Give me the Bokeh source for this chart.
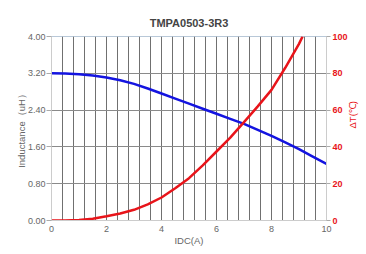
import math
from bokeh.plotting import figure
from bokeh.models import Range1d, LinearAxis, SingleIntervalTicker, FixedTicker, NumeralTickFormatter
from bokeh.embed import file_html
from bokeh.resources import INLINE

title_text = "TMPA0503-3R3"
x_label = "IDC(A)"
y_label = "Inductance（uH）"
y2_label = "ΔT(℃)"

# Inductance vs IDC
idc_l = [0, 0.5, 1, 1.5, 2, 2.5, 3, 3.5, 4, 4.5, 5, 5.5, 6, 6.5, 7, 7.5, 8, 8.5, 9, 9.5, 10]
inductance = [3.20, 3.195, 3.18, 3.15, 3.11, 3.05, 2.97, 2.87, 2.76, 2.65, 2.54, 2.43, 2.32,
              2.21, 2.10, 1.97, 1.84, 1.70, 1.55, 1.39, 1.23]

# Temperature rise vs IDC
idc_t = [0, 0.5, 1, 1.5, 2, 2.5, 3, 3.5, 4, 4.5, 5, 5.5, 6, 6.5, 7, 7.5, 8, 8.5, 9, 9.13]
delta_t = [0, 0.05, 0.3, 1.0, 2.3, 3.8, 5.8, 8.8, 12.5, 17.5, 23, 30, 37.5, 45, 53.5, 62, 71, 83, 96, 100]

x_ticks = [0, 2, 4, 6, 8, 10]
y_ticks = [0, 0.8, 1.6, 2.4, 3.2, 4.0]
y2_ticks = [0, 20, 40, 60, 80, 100]

FONT = "Liberation Sans"
GREY = "#666666"
RED = "#e8141a"
BLUE = "#1414e0"

p = figure(width=366, height=252, output_backend="svg", toolbar_location=None,
           x_range=Range1d(0, 10), y_range=Range1d(0, 4),
           min_border_left=51, min_border_right=40, min_border_top=36, min_border_bottom=32)
p.extra_y_ranges = {"dt": Range1d(0, 100)}

p.title.text = title_text
p.title.align = "center"
p.title.offset = -6
p.title.text_font = FONT
p.title.text_font_size = "11px"
p.title.text_font_style = "bold"
p.title.text_color = "#444444"
p.title.standoff = 15

p.outline_line_color = "#b8c8d8"
p.background_fill_color = "white"
p.border_fill_color = "white"

# grids
p.xgrid.ticker = SingleIntervalTicker(interval=0.4)
p.xgrid.grid_line_color = "#707070"
p.xgrid.grid_line_width = 1
p.ygrid.ticker = FixedTicker(ticks=y_ticks)
p.ygrid.grid_line_color = "#8a8a8a"
p.ygrid.grid_line_width = 1

# bottom axis
xa = p.xaxis[0]
xa.ticker = FixedTicker(ticks=x_ticks)
xa.axis_label = x_label
xa.axis_line_color = "#cccccc"
xa.major_tick_line_color = None
xa.minor_tick_line_color = None
xa.major_tick_out = 0
xa.major_label_text_font = FONT
xa.major_label_text_font_size = "9px"
xa.major_label_text_color = GREY
xa.major_label_standoff = 5
xa.axis_label_text_font = FONT
xa.axis_label_text_font_size = "9.5px"
xa.axis_label_text_font_style = "normal"
xa.axis_label_text_color = GREY
xa.axis_label_standoff = 0

# left axis
ya = p.yaxis[0]
ya.ticker = FixedTicker(ticks=y_ticks)
ya.formatter = NumeralTickFormatter(format="0.00")
ya.axis_label = y_label
ya.axis_line_color = "#cccccc"
ya.major_tick_line_color = "#aaaaaa"
ya.major_tick_out = 5
ya.major_tick_in = 0
ya.minor_tick_line_color = None
ya.major_label_text_font = FONT
ya.major_label_text_font_size = "9px"
ya.major_label_text_color = GREY
ya.major_label_standoff = 1
ya.axis_label_text_font = FONT
ya.axis_label_text_font_size = "9.5px"
ya.axis_label_text_font_style = "normal"
ya.axis_label_text_color = GREY
ya.axis_label_standoff = -2

# right axis
ra = LinearAxis(y_range_name="dt", ticker=FixedTicker(ticks=y2_ticks))
ra.axis_line_color = "#cccccc"
ra.major_tick_line_color = "#aaaaaa"
ra.major_tick_out = 4
ra.major_tick_in = 0
ra.minor_tick_line_color = None
ra.major_label_text_font = FONT
ra.major_label_text_font_size = "9px"
ra.major_label_text_font_style = "bold"
ra.major_label_text_color = RED
ra.major_label_standoff = 2
ra.axis_label = y2_label
ra.axis_label_text_font = FONT
ra.axis_label_text_font_size = "9.5px"
ra.axis_label_text_font_style = "normal"
ra.axis_label_text_color = RED
ra.axis_label_standoff = 2
if "axis_label_orientation" in ra.properties():
    ra.axis_label_orientation = math.pi / 2
p.add_layout(ra, "right")

p.line(idc_l, inductance, line_color=BLUE, line_width=2.5)
p.line(idc_t, delta_t, line_color=RED, line_width=2.5, y_range_name="dt")

open("out.html", "w").write(file_html(p, INLINE))
